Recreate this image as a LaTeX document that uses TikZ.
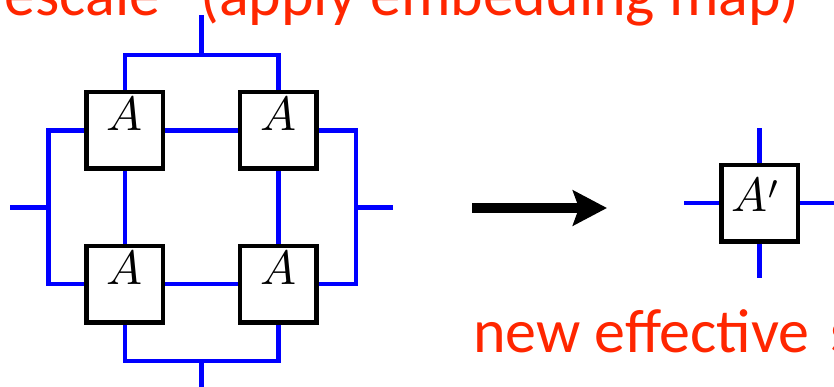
\documentclass[tikz,border=0pt]{standalone}
\usepackage{fontspec}
\newfontfamily\slidefont{Carlito}
\usetikzlibrary{arrows.meta}
\definecolor{slidered}{RGB}{255,38,0}
\font\bigmi=cmmi10 at 48pt
\font\primesy=cmsy10 at 34pt
\begin{document}
\begin{tikzpicture}[x=1pt,y=-1pt,
  tensor/.style={draw=black,line width=4.5pt,fill=white,minimum width=76.5pt,minimum height=76.5pt,inner sep=0pt,font=\bigmi},
  bigA/.style={tensor,text height=33pt,text depth=32pt},
  smallA/.style={tensor,text height=33pt,text depth=17pt},
  leg/.style={draw=blue,line width=4.5pt},
  slidetext/.style={text=slidered,font=\slidefont\fontsize{62}{70}\selectfont,inner sep=0pt}]
\useasboundingbox (0,0) rectangle (834,386);
\clip (0,0) rectangle (834,386);
% texts
\node[slidetext,anchor=base east] (title) at (800,15) {“rescale” (apply embedding map)};
\node[slidetext,anchor=base west] (caption) at (473,352) {new effective\kern7pt{} site};
% tensors
\node[bigA] (a1) at (124.8,130.3) {A};
\node[bigA] (a2) at (278.3,130.3) {A};
\node[bigA] (a3) at (124.8,284.2) {A};
\node[bigA] (a4) at (278.3,284.2) {A};
\node[smallA] (ap) at (759.5,203) {A\kern1pt\raisebox{12pt}{\primesy\char"30}\kern10pt};
% junctions and free ends
\coordinate (tj) at (201.5,55);
\coordinate (tt) at (201.5,15);
\coordinate (bj) at (201.5,361);
\coordinate (bb) at (201.5,395);
\coordinate (lj) at (48.5,207.3);
\coordinate (lt) at (10,207.3);
\coordinate (rj) at (356,207.3);
\coordinate (rt) at (393,207.3);
% legs of the 2x2 block
\path[leg] (a1.north) |- (tj) -| (a2.north);
\path[leg] (tj) -- (tt);
\path[leg] (a3.south) |- (bj) -| (a4.south);
\path[leg] (bj) -- (bb);
\path[leg] (a1.west) -| (lj) |- (a3.west);
\path[leg] (lj) -- (lt);
\path[leg] (a2.east) -| (rj) |- (a4.east);
\path[leg] (rj) -- (rt);
\path[leg] (a1.east) -- (a2.west);
\path[leg] (a3.east) -- (a4.west);
\path[leg] (a1.south) -- (a3.north);
\path[leg] (a2.south) -- (a4.north);
% arrow
\coordinate (as) at (472,208);
\coordinate (ae) at (607,208);
\draw[line width=10pt,-{Stealth[length=34pt,width=35pt,inset=6pt]}] (as) -- (ae);
% legs of A'
\coordinate (apt) at (759.5,128);
\coordinate (apb) at (759.5,278);
\coordinate (apl) at (684,203);
\coordinate (apr) at (845,203);
\path[leg] (ap.north) -- (apt);
\path[leg] (ap.south) -- (apb);
\path[leg] (ap.west) -- (apl);
\path[leg] (ap.east) -- (apr);
\end{tikzpicture}
\end{document}
